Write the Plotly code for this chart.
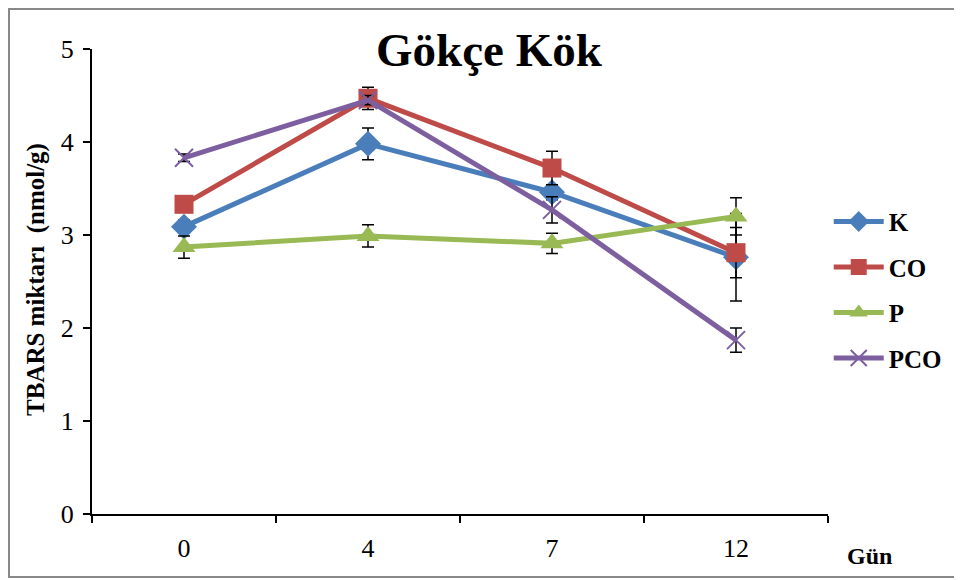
import plotly.graph_objects as go

days = ["0", "4", "7", "12"]
K = [3.09, 3.98, 3.46, 2.76]
K_err = [0.07, 0.17, 0.08, 0.47]
CO = [3.33, 4.47, 3.72, 2.81]
CO_err = [0.03, 0.12, 0.18, 0.27]
P = [2.87, 2.99, 2.91, 3.20]
P_err = [0.12, 0.12, 0.11, 0.20]
PCO = [3.83, 4.45, 3.27, 1.87]
PCO_err = [0.04, 0.05, 0.14, 0.13]

series = [
    ("K", K, K_err, "#4A7EBB", "diamond", 20, None),
    ("CO", CO, CO_err, "#BE4B48", "square", 19, None),
    ("P", P, P_err, "#98B954", "triangle-up", 20, None),
    ("PCO", PCO, PCO_err, "#7D5FA0", "x-thin", 18, 2),
]

FONT = "Liberation Serif, Times New Roman, serif"
# page body has an 8px margin: plot area on page is x 92..828, y 49..514
OFF = 8
fig = go.Figure()
for name, vals, err, col, sym, size, lw in series:
    marker = dict(symbol=sym, size=size, color=col)
    if lw:
        marker["line"] = dict(color=col, width=lw)
    fig.add_trace(go.Scatter(
        x=days, y=vals, name=name, mode="lines+markers", legendgroup=name,
        line=dict(color=col, width=5),
        marker=marker,
        error_y=dict(type="data", array=err, visible=True, color="black",
                     thickness=1.5, width=6),
    ))

fig.update_layout(
    width=962 - OFF, height=580 - OFF,
    margin=dict(l=92 - OFF, r=134, t=49 - OFF, b=66, autoexpand=False),
    paper_bgcolor="white", plot_bgcolor="white",
    font=dict(family=FONT, color="black", size=26),
    showlegend=True,
    legend=dict(x=1.001, y=0.678, xanchor="left", yanchor="top",
                font=dict(family=FONT, size=25, color="black", weight="bold"),
                tracegroupgap=10, itemwidth=50, bgcolor="rgba(0,0,0,0)"),
    xaxis=dict(type="category", range=[-0.5, 3.5], showline=True, linecolor="black",
               linewidth=2, ticks="outside", tickson="boundaries", ticklen=7,
               tickcolor="black", tickwidth=2, showgrid=False, zeroline=False,
               ticklabelstandoff=10, tickfont=dict(family=FONT, size=26)),
    yaxis=dict(range=[0, 5], dtick=1, showline=True, linecolor="black", linewidth=2,
               ticks="outside", ticklen=7, tickcolor="black", tickwidth=2,
               showgrid=False, zeroline=False, ticklabelstandoff=4,
               tickfont=dict(family=FONT, size=26)),
    annotations=[
        dict(text="<b>Gökçe Kök</b>", xref="paper", yref="paper", x=0.54, y=0.998,
             xanchor="center", yanchor="middle", showarrow=False,
             font=dict(family=FONT, size=47)),
        dict(text="<b>TBARS miktarı\u00a0\u00a0(nmol/g)</b>", xref="paper", yref="paper",
             x=(36 - 92) / 736, y=(514 - 280) / 465, textangle=-90, xanchor="center",
             yanchor="middle", showarrow=False, font=dict(family=FONT, size=25)),
        dict(text="<b>Gün</b>", xref="paper", yref="paper", x=(869 - 92) / 736,
             y=(514 - 556) / 465, xanchor="center", yanchor="middle", showarrow=False,
             font=dict(family=FONT, size=24)),
    ],
    shapes=[
        dict(type="rect", xref="paper", yref="paper",
             x0=(9 - 92) / 736, x1=(955 - 92) / 736,
             y0=(514 - 577) / 465, y1=(514 - 9) / 465,
             line=dict(color="#888888", width=2)),
    ],
)

fig.write_html("out.html")
